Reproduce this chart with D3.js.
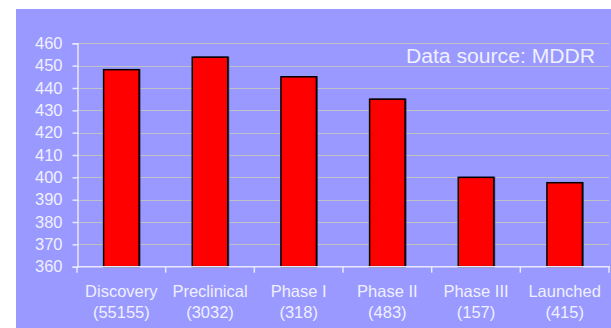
<!DOCTYPE html>
<html>
<head>
<meta charset="utf-8">
<script src="https://cdn.jsdelivr.net/npm/d3@7"></script>
<style>
  html, body { margin: 0; padding: 0; background: #fff; }
  svg { display: block; }
  text { font-family: "Liberation Sans", Arial, sans-serif; fill: #f0f0ff; }
</style>
</head>
<body>
<svg id="chart" width="611" height="328"></svg>
<script>
// Development stages and number of compounds in each
const categories = ["Discovery", "Preclinical", "Phase I", "Phase II", "Phase III", "Launched"];
const counts = ["55155", "3032", "318", "483", "157", "415"];
// Mean value per stage
const values = [448.2, 453.8, 445, 435, 400, 397.6];
const yTicks = [360, 370, 380, 390, 400, 410, 420, 430, 440, 450, 460];
const sourceNote = "Data source: MDDR";

const svg = d3.select("#chart");

// Panel background
svg.append("rect")
  .attr("x", 16).attr("y", 9)
  .attr("width", 611 - 16).attr("height", 328 - 9)
  .attr("fill", "#9999ff");

const x = d3.scaleBand().domain(categories).range([77, 609]).padding(0);
const y = d3.scaleLinear().domain([360, 460]).range([266.7, 43.3]);

// Horizontal gridlines
svg.append("g")
  .selectAll("line")
  .data(yTicks.slice(1))
  .join("line")
  .attr("x1", 77).attr("x2", 609)
  .attr("y1", d => Math.round(y(d)) + 0.5)
  .attr("y2", d => Math.round(y(d)) + 0.5)
  .attr("stroke", "#c0c0c8")
  .attr("stroke-width", 1);

// Bars: Excel-style gap width of 150%
const barW = x.bandwidth() / 2.5;
const barG = svg.append("g");
barG.selectAll("rect.shadow")
  .data(values)
  .join("rect")
  .attr("class", "shadow")
  .attr("x", (d, i) => x(categories[i]) + (x.bandwidth() - barW) / 2 + 1.5)
  .attr("y", d => y(d) - 0.5)
  .attr("width", barW)
  .attr("height", d => y(360) - y(d) + 0.5)
  .attr("fill", "#2a2a55")
  .attr("opacity", 0.8);
barG.selectAll("rect.bar")
  .data(values)
  .join("rect")
  .attr("class", "bar")
  .attr("x", (d, i) => x(categories[i]) + (x.bandwidth() - barW) / 2)
  .attr("y", d => y(d))
  .attr("width", barW)
  .attr("height", d => y(360) - y(d))
  .attr("fill", "#ff0000")
  .attr("stroke", "#000")
  .attr("stroke-width", 1.5);

// Y axis
const yAxis = svg.append("g")
  .attr("transform", "translate(77.5,0)")
  .call(d3.axisLeft(y).tickValues(yTicks).tickSize(5).tickPadding(10).tickFormat(d3.format("d")));
yAxis.select(".domain").attr("stroke", "#e8e8ff").attr("stroke-width", 1.5);
yAxis.selectAll(".tick line").attr("stroke", "#e8e8ff").attr("stroke-width", 1.5);
yAxis.selectAll(".tick text")
  .attr("font-size", 16.5)
  .attr("fill", "#f0f0ff")
  .attr("font-family", "Liberation Sans, Arial, sans-serif");

// X axis line with ticks at band boundaries
const xAxisG = svg.append("g");
xAxisG.append("line")
  .attr("x1", 77).attr("x2", 610)
  .attr("y1", y(360)).attr("y2", y(360))
  .attr("stroke", "#e8e8ff").attr("stroke-width", 1.5);
const bounds = categories.map(c => x(c)).concat([x.range()[1]]);
xAxisG.selectAll("line.tick")
  .data(bounds)
  .join("line")
  .attr("class", "tick")
  .attr("x1", d => d).attr("x2", d => d)
  .attr("y1", y(360)).attr("y2", y(360) + 6)
  .attr("stroke", "#e8e8ff").attr("stroke-width", 1.5);

// Category labels (two lines: stage name, compound count)
const labels = xAxisG.selectAll("text.cat")
  .data(categories)
  .join("text")
  .attr("class", "cat")
  .attr("text-anchor", "middle")
  .attr("font-size", 16.5)
  .attr("x", d => x(d) + x.bandwidth() / 2);
labels.append("tspan")
  .attr("x", d => x(d) + x.bandwidth() / 2)
  .attr("y", 296.5)
  .text(d => d);
labels.append("tspan")
  .attr("x", d => x(d) + x.bandwidth() / 2)
  .attr("y", 317.5)
  .text((d, i) => "(" + counts[i] + ")");

// Source note
svg.append("text")
  .attr("x", 595).attr("y", 63)
  .attr("text-anchor", "end")
  .attr("font-size", 20)
  .attr("textLength", 189)
  .attr("lengthAdjust", "spacingAndGlyphs")
  .text(sourceNote);
</script>
</body>
</html>
